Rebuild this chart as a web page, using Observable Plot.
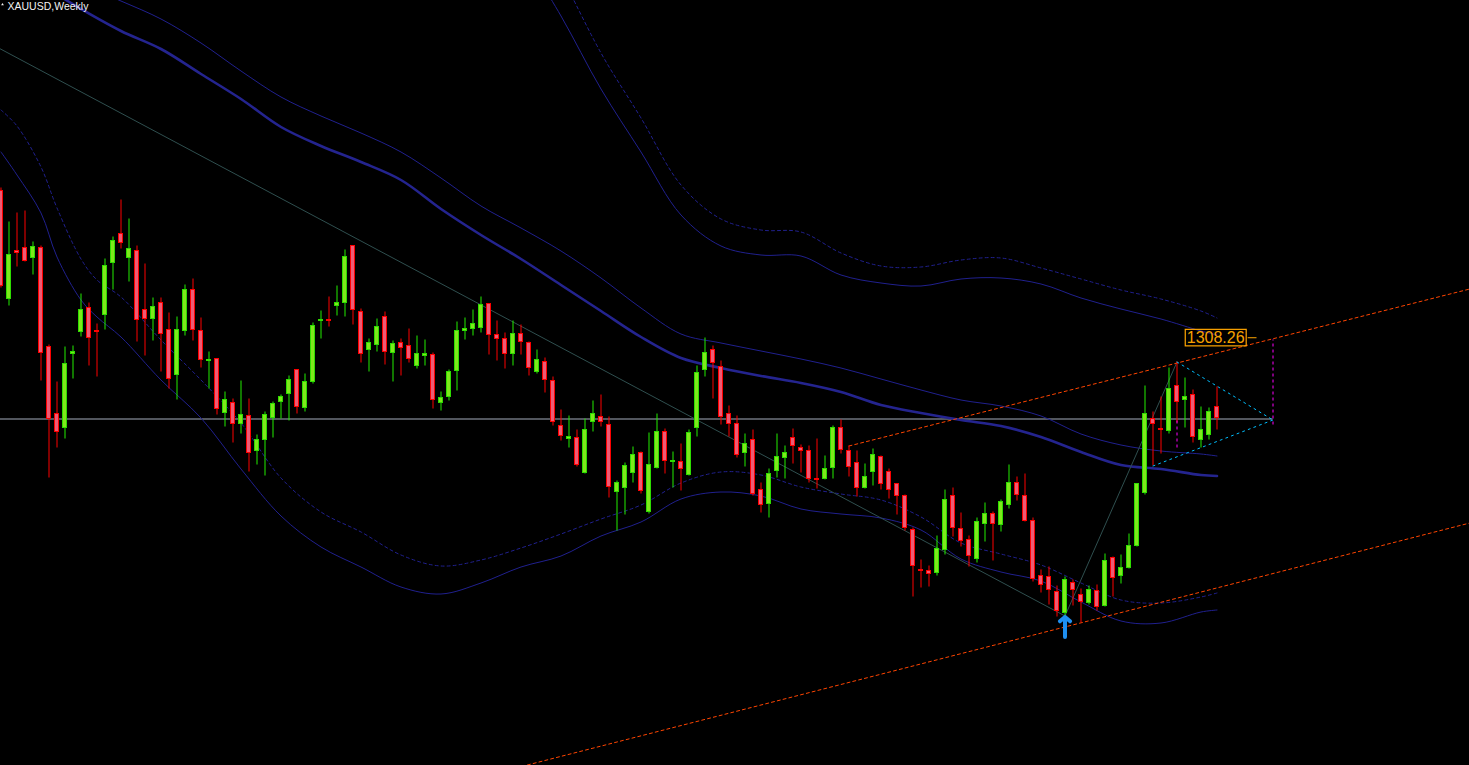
<!DOCTYPE html>
<html><head><meta charset="utf-8">
<script src="https://cdn.jsdelivr.net/npm/d3@7"></script>
<script src="https://cdn.jsdelivr.net/npm/@observablehq/plot@0.6"></script>
<style>
html,body{margin:0;padding:0;background:#000;overflow:hidden;}
#chart{width:1469px;height:765px;overflow:hidden;}
</style></head><body><div id="chart"></div>
<script>
// Weekly XAUUSD candles (index = week number on the chart, prices in USD)
const open = [1455,1347,1395,1398,1388,1398,1299,1232,1218,1292,
 1314,1338,1315,1331,1383,1412,1388,1395,1336,1327,
 1343,1316,1271,1315,1356,1315,1285,1287,1233,1243,
 1222,1230,1195,1206,1228,1244,1252,1276,1238,1264,
 1325,1326,1340,1343,1400,1334,1296,1301,1329,1293,
 1303,1300,1280,1290,1291,1243,1249,1275,1315,1317,
 1318,1342,1311,1307,1292,1312,1303,1274,1284,1265,
 1220,1207,1208,1173,1224,1229,1221,1154,1158,1173,
 1193,1134,1178,1214,1184,1184,1171,1218,1276,1296,
 1279,1232,1222,1193,1206,1156,1142,1175,1188,1208,
 1198,1195,1167,1167,1178,1218,1195,1183,1158,1174,
 1189,1174,1162,1150,1116,1076,1075,1073,1096,1150,
 1117,1106,1087,1122,1132,1121,1141,1163,1150,1125,
 1070,1069,1054,1033,1063,1051,1043,1055,1040,1088,
 1070,1078,1100,1153,1227,1217,1215,1260,1246,1251,
 1206,1211,1239];
const high = [1458,1424,1433,1435,1404,1400,1301,1264,1299,1300,
 1352,1343,1322,1387,1409,1446,1427,1400,1382,1348,
 1348,1333,1329,1361,1367,1328,1294,1287,1254,1247,
 1265,1247,1211,1234,1244,1251,1270,1276,1272,1323,
 1335,1349,1360,1396,1400,1337,1307,1327,1334,1305,
 1307,1317,1310,1306,1293,1254,1276,1324,1328,1336,
 1349,1342,1325,1313,1325,1321,1304,1296,1288,1269,
 1236,1230,1216,1227,1245,1251,1229,1165,1183,1199,
 1194,1213,1232,1217,1194,1202,1216,1280,1308,1300,
 1285,1240,1230,1212,1216,1163,1177,1212,1200,1217,
 1201,1200,1207,1190,1220,1226,1200,1195,1182,1197,
 1190,1177,1162,1151,1118,1086,1080,1110,1156,1158,
 1133,1110,1128,1143,1134,1146,1181,1169,1172,1128,
 1076,1079,1060,1069,1066,1057,1060,1061,1092,1089,
 1091,1112,1162,1260,1234,1249,1278,1284,1268,1256,
 1239,1238,1259];
const low = [1358,1340,1379,1384,1371,1265,1168,1198,1207,1267,
 1309,1280,1269,1316,1356,1397,1364,1304,1290,1305,
 1274,1257,1246,1310,1305,1278,1257,1231,1219,1203,
 1212,1174,1181,1170,1208,1227,1225,1232,1234,1262,
 1307,1319,1330,1329,1321,1283,1274,1294,1281,1264,
 1270,1283,1277,1280,1237,1235,1245,1255,1306,1310,
 1313,1291,1285,1277,1280,1291,1270,1272,1253,1220,
 1205,1198,1179,1172,1214,1219,1148,1115,1131,1163,
 1152,1132,1177,1172,1158,1155,1170,1209,1269,1247,
 1221,1209,1188,1179,1150,1133,1128,1168,1167,1182,
 1173,1163,1157,1166,1167,1192,1169,1149,1157,1160,
 1156,1147,1131,1115,1049,1058,1059,1070,1091,1109,
 1099,1079,1083,1104,1085,1114,1137,1145,1124,1064,
 1053,1041,1029,1026,1040,1023,1041,1035,1039,1049,
 1062,1077,1099,1151,1180,1192,1212,1223,1218,1203,
 1198,1206,1216];
const close = [1360,1391,1393,1385,1399,1293,1227,1214,1282,1294,
 1336,1308,1314,1380,1405,1403,1397,1326,1327,1339,
 1312,1267,1316,1356,1316,1286,1286,1237,1246,1222,
 1231,1193,1206,1231,1242,1249,1266,1239,1264,1320,
 1326,1325,1343,1389,1336,1292,1303,1319,1294,1302,
 1298,1287,1292,1292,1246,1248,1274,1315,1317,1322,
 1341,1311,1307,1292,1312,1304,1278,1286,1266,1224,
 1210,1209,1181,1216,1232,1224,1159,1163,1180,1191,
 1155,1181,1214,1185,1185,1177,1213,1273,1293,1283,
 1229,1222,1191,1202,1152,1141,1172,1189,1193,1200,
 1195,1167,1166,1177,1218,1196,1179,1158,1169,1191,
 1162,1156,1150,1118,1080,1075,1072,1097,1146,1118,
 1105,1090,1124,1132,1122,1144,1163,1151,1125,1067,
 1061,1056,1035,1066,1056,1044,1056,1039,1085,1068,
 1078,1100,1162,1232,1222,1216,1257,1244,1249,1209,
 1216,1234,1228];

// Indicator curves: [week index, price]
const maMid = [[0,1681],[5,1661],[10,1637],[15,1615],[20,1597],[25,1572],[30,1547],[35,1519],[40,1500],[45,1484],[50,1466],[55,1437],[60,1411],[65,1387],[70,1361],[75,1335],[80,1309],[85,1288],[90,1278],[95,1270],[100,1263],[105,1254],[110,1241],[115,1233],[120,1226],[125,1220],[130,1209],[135,1194],[140,1181],[145,1177],[150,1171],[152,1170]];
const upperInner = [[0,1696],[5,1679],[10,1662],[15,1645],[20,1627],[25,1603],[30,1575],[35,1549],[40,1530],[45,1513],[50,1494],[55,1468],[60,1440],[65,1418],[70,1395],[75,1368],[80,1338],[85,1312],[90,1303],[95,1295],[100,1287],[105,1278],[110,1267],[115,1256],[120,1246],[125,1240],[130,1230],[135,1212],[140,1201],[145,1195],[150,1192],[152,1190]];
const upperOuterDash = [[70,1672],[75,1593],[80,1528],[85,1461],[90,1427],[95,1416],[100,1414],[105,1393],[110,1380],[115,1379],[120,1386],[125,1388],[130,1378],[135,1367],[140,1356],[145,1347],[150,1335],[152,1328]];
const upperOuter = [[65,1696],[70,1630],[75,1557],[80,1494],[85,1431],[90,1400],[95,1391],[100,1390],[105,1371],[110,1363],[115,1360],[120,1367],[125,1368],[130,1362],[135,1348],[140,1337],[145,1327],[150,1315],[152,1311]];
const lowerDash = [[0,1536],[2,1520],[5,1479],[7,1438],[10,1387],[12,1366],[15,1349],[20,1306],[25,1266],[30,1223],[35,1168],[40,1134],[45,1114],[50,1091],[55,1080],[60,1086],[65,1098],[70,1112],[75,1127],[80,1141],[85,1163],[90,1174],[95,1171],[100,1159],[105,1152],[110,1146],[115,1129],[120,1103],[125,1092],[130,1081],[135,1063],[140,1046],[145,1043],[150,1049],[152,1053]];
const lowerSolid = [[0,1494],[2,1471],[5,1433],[7,1389],[10,1346],[12,1329],[15,1309],[20,1266],[25,1228],[30,1177],[35,1130],[40,1099],[45,1079],[50,1059],[55,1052],[60,1063],[65,1079],[70,1090],[75,1110],[80,1124],[85,1147],[90,1154],[95,1150],[100,1137],[105,1132],[110,1128],[115,1116],[120,1087],[125,1074],[130,1065],[135,1044],[140,1025],[145,1023],[150,1034],[152,1036]];

// Drawn objects: [week index, price]
const trendDown = [[-1,1601],[133,1030]];
const trendUp = [[133,1030],[147,1284]];
const channelUpper = [[106,1200],[183.6,1357]];
const channelLower = [[65.8,881],[183.6,1123]];
const triangleTop = [[147,1284],[159,1226]];
const triangleBottom = [[144,1180],[159,1226]];
const hLine = [{price:1227, from:-1, to:159}];
const vLines = [{at:159, from:1221, to:1306},{at:147, from:1198, to:1228}];
const priceLabel = [{at:155.45, price:1308.26, text:"1308.26"}];
const labelTick = [{from:155.9, to:157, price:1308.26}];
const lowArrow = [{at:133, from:1009, to:1029}];
const chartTitle = ["XAUUSD,Weekly"];

const candles = open.map((o,i)=>({i, open:o, high:high[i], low:low[i], close:close[i], up: close[i] > o}));

const navy = "#20208e";
const P = d=>d[0], V = d=>d[1];

const chart = Plot.plot({
  width: 1469, height: 765, margin: 0,
  style: {background: "#000", overflow: "hidden"},
  x: {type: "linear", domain: [-0.0625, 183.5625], axis: null},
  y: {type: "linear", domain: [880.5, 1645.5], axis: null},
  marks: [
    Plot.ruleY(hLine, {y: "price", x1: "from", x2: "to", stroke: "#a4acbc", strokeWidth: 1}),
    Plot.line(upperOuter, {x: P, y: V, stroke: navy, strokeWidth: 1, curve: "catmull-rom", clip: true}),
    Plot.line(upperOuterDash, {x: P, y: V, stroke: navy, strokeWidth: 1, strokeDasharray: "3,3", curve: "catmull-rom", clip: true}),
    Plot.line(upperInner, {x: P, y: V, stroke: navy, strokeWidth: 1, curve: "catmull-rom", clip: true}),
    Plot.line(maMid, {x: P, y: V, stroke: "#24248f", strokeWidth: 2.6, curve: "catmull-rom", clip: true}),
    Plot.line(lowerDash, {x: P, y: V, stroke: navy, strokeWidth: 1, strokeDasharray: "3,3", curve: "catmull-rom", clip: true}),
    Plot.line(lowerSolid, {x: P, y: V, stroke: navy, strokeWidth: 1, curve: "catmull-rom", clip: true}),
    Plot.line(trendDown, {x: P, y: V, stroke: "#2f4f4f", strokeWidth: 1, clip: true}),
    Plot.line(trendUp, {x: P, y: V, stroke: "#2f4f4f", strokeWidth: 1, clip: true}),
    Plot.line(channelUpper, {x: P, y: V, stroke: "#ff4500", strokeWidth: 1, strokeDasharray: "3,3", clip: true}),
    Plot.line(channelLower, {x: P, y: V, stroke: "#ff4500", strokeWidth: 1, strokeDasharray: "3,3", clip: true}),
    Plot.ruleX(candles, {x: "i", y1: "low", y2: "high", stroke: d => d.up ? "#22ee00" : "#ff0000", strokeWidth: 1}),
    Plot.rect(candles, {x1: d => d.i - 0.25, x2: d => d.i + 0.25, y1: "open", y2: "close",
      fill: d => d.up ? "#7ee81c" : "#ee5a74", stroke: d => d.up ? "#2edd00" : "#ff0000", strokeWidth: 1}),
    Plot.line(triangleTop, {x: P, y: V, stroke: "#00bfff", strokeWidth: 1, strokeDasharray: "2,4"}),
    Plot.line(triangleBottom, {x: P, y: V, stroke: "#00bfff", strokeWidth: 1, strokeDasharray: "2,4"}),
    Plot.ruleX(vLines, {x: "at", y1: "from", y2: "to", stroke: "#ff00ff", strokeWidth: 1, strokeDasharray: "3,3"}),
    Plot.ruleY(labelTick, {y: "price", x1: "from", x2: "to", stroke: "#ffa500", strokeWidth: 1}),
    Plot.text(priceLabel, {x: "at", y: "price", text: "text", textAnchor: "end", fill: "#f5a000",
      fontSize: 16, fontFamily: "Liberation Sans, Arial, sans-serif"}),
    Plot.arrow(lowArrow, {x1: "at", x2: "at", y1: "from", y2: "to", stroke: "#1e8ff0", strokeWidth: 4, headLength: 9, headAngle: 100}),
    Plot.text(chartTitle, {text: d => d, frameAnchor: "top-left", dx: 7, dy: 2, lineAnchor: "top",
      fill: "#f2f2f2", fontSize: 10.5, fontFamily: "Liberation Sans, Arial, sans-serif"}),
    Plot.dot([0], {frameAnchor: "top-left", dx: 2, dy: 4, r: 1.3, symbol: "triangle2", fill: "#f2f2f2", stroke: "none"})
  ]
});
document.getElementById("chart").appendChild(chart);

// Box around the price label
const lbl = Array.from(chart.querySelectorAll("text")).find(t => t.textContent === priceLabel[0].text);
if (lbl) {
  const bb = lbl.getBBox();
  const r = document.createElementNS("http://www.w3.org/2000/svg", "rect");
  r.setAttribute("x", bb.x - 1.5);
  r.setAttribute("y", bb.y + 0.5);
  r.setAttribute("width", bb.width + 3);
  r.setAttribute("height", bb.height - 0.5);
  r.setAttribute("fill", "none");
  r.setAttribute("stroke", "#ffa500");
  r.setAttribute("stroke-width", 1.2);
  if (lbl.getAttribute("transform")) r.setAttribute("transform", lbl.getAttribute("transform"));
  lbl.parentNode.insertBefore(r, lbl);
}
</script></body></html>
